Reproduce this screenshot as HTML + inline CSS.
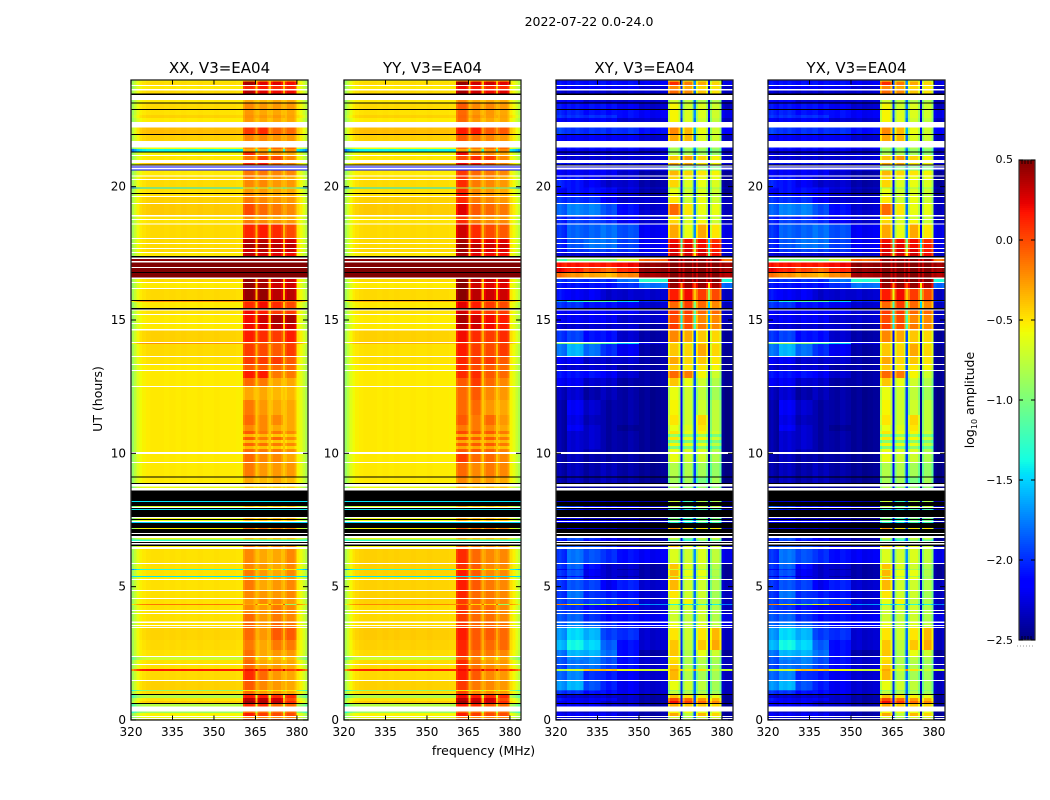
<!DOCTYPE html>
<html lang="en">
<head>
<meta charset="utf-8">
<title>2022-07-22 0.0-24.0</title>
<style>
html,body{margin:0;padding:0;background:#fff;overflow:hidden}
svg{display:block}
text{font-family:"DejaVu Sans","Liberation Sans",sans-serif;fill:#000}
</style>
</head>
<body>
<svg id="chart" xmlns="http://www.w3.org/2000/svg" width="1050" height="800" viewBox="0 0 1050 800">
<rect x="0" y="0" width="1050" height="800" fill="#fff"/>
<text x="589" y="26" font-size="12.5" text-anchor="middle">2022-07-22 0.0-24.0</text>
<text x="483.5" y="755" font-size="12.5" text-anchor="middle">frequency (MHz)</text>
<text x="102" y="399" font-size="12.5" text-anchor="middle" transform="rotate(-90 102 399)">UT (hours)</text>
<text x="974" y="400" font-size="12.5" text-anchor="middle" transform="rotate(-90 974 400)">log<tspan font-size="8" dy="3">10</tspan><tspan dy="-3"> amplitude</tspan></text>
</svg>
<script>
/* ---------- axis data ---------- */
const panelNames = ["XX, V3=EA04", "YY, V3=EA04", "XY, V3=EA04", "YX, V3=EA04"];
const xTicks = [320, 335, 350, 365, 380];
const yTicks = [0, 5, 10, 15, 20];
const colorTicks = [0.5, 0, -0.5, -1, -1.5, -2, -2.5];
const colorTickLabels = ["0.5", "0.0", "\u22120.5", "\u22121.0", "\u22121.5", "\u22122.0", "\u22122.5"];

/* frequency channels, MHz */
const channelEdges = [320,321,322,323,324,325.5,327,328.5,330,332,334,336,338,340,342,344,346,348,350,352,354,356,358,360.5,361.2,364.3,365,365.7,366.4,369.1,369.8,370.6,371.3,374.3,375,375.7,376.4,379.2,379.9,381,382,383,384];
const copolGroup = [0,0,0,0,0,0,0,0,0,0,0,0,0,0,0,0,0,0,0,0,0,0,0,1,1,1,0,2,2,2,0,3,3,3,0,4,4,4,0,0,0,0];
const crossGroup = [0,0,0,0,1,1,1,1,2,2,2,3,3,3,4,4,4,4,5,5,5,5,5,6,6,6,10,7,7,7,10,8,8,8,10,9,9,9,5,5,5,5];
const copolProfile = [-.38,-.25,-.12,-.05,-.02,0,.01,.01,.01,0,.01,0,.01,0,0,.01,0,0,.01,0,0,0,-.01,-.08,0,-.08,.12,-.08,0,-.08,.12,-.08,0,-.08,.12,-.08,0,-.08,-.03,-.1,-.2,-.3];
const crossProfile = [.02,.05,0,-.04,.03,0,.04,0,-.03,.03,0,.03,-.03,.02,0,-.02,.03,0,0,.03,-.02,0,.02,-.22,0,-.22,.3,-.22,0,-.22,.5,-.22,0,-.22,0,-.22,0,-.22,0,-.05,-.05,0];

/* time rows, hours, top to bottom */
const rowEdges = [24,23.944,23.813,23.775,23.663,23.606,23.494,23.438,23.25,23.156,23.119,22.913,22.875,22.688,22.575,22.425,22.219,21.975,21.938,21.713,21.469,21.413,21.319,21.281,21.188,21.15,21,20.888,20.831,20.794,20.756,20.719,20.644,20.606,20.419,20.381,20.288,20.25,19.969,19.931,19.763,19.725,19.65,19.613,19.388,19.35,18.938,18.881,18.788,18.75,18.619,18.581,18.075,18.038,17.888,17.85,17.7,17.663,17.55,17.513,17.4,17.344,17.288,17.213,17.156,16.988,16.95,16.8,16.763,16.594,16.538,16.425,16.388,16.2,16.163,15.75,15.713,15.675,15.45,15.394,15.356,15.225,15.188,14.888,14.85,14.663,14.606,14.175,14.138,14.1,13.65,13.613,13.35,13.313,13.125,13.088,12.825,12.525,12.488,12,11.438,11.063,10.838,10.725,10.613,10.5,10.388,10.275,10.163,10.05,9.975,9.675,9.638,9.131,9.094,8.888,8.85,8.756,8.7,8.606,8.213,8.175,8.025,7.988,7.95,7.913,7.875,7.613,7.575,7.538,7.5,7.463,7.425,7.388,7.2,7.163,7.013,6.975,6.9,6.825,6.769,6.713,6.675,6.638,6.581,6.525,6.488,6.413,5.888,5.85,5.663,5.625,5.4,5.363,5.288,5.25,4.875,4.838,4.575,4.538,4.35,4.313,4.125,4.088,4.013,3.975,3.694,3.638,3.563,3.525,3.488,3.45,3,2.625,2.4,2.363,2.25,2.1,2.063,1.913,1.838,1.5,1.463,1.125,1.088,.975,.938,.825,.713,.638,.6,.506,.319,.263,.15,.113,.075,.038,0];
const blankRows = [2,4,7,15,19,24,26,29,31,34,36,42,44,46,48,50,52,54,56,58,61,63,65,69,71,73,79,81,83,85,87,90,92,94,97,109,111,116,118,123,127,131,136,138,141,143,146,148,154,156,158,162,164,166,168,170,174,177,181,191,194,196];
const flaggedRows = [6,9,11,17,22,28,40,60,67,75,78,113,115,119,121,124,126,129,133,135,137,142,144,185,189];

/* log10 amplitude for data rows: [low, band1, band2, band3, band4], or one number for a uniform row */
const xxLevels = [
[-.55,-.35,-.35,-.35,-.35],[-.47,.4,.25,.25,.2],[-.52,.1,.15,.1,.1],[-.47,.35,.25,.2,.2],[-.52,-.3,-.35,-.3,-.3],
[-.47,-.2,-.25,-.25,-.25],[-.49,-.25,-.3,-.3,-.3],[-.44,-.22,-.25,-.25,-.28],[-.52,-.25,-.3,-.3,-.3],[-.38,.05,.1,-.1,-.1],
[-.44,-.2,-.2,-.25,-.25],[-.6,-.2,-.15,-.1,-.1],[-1.4,-.3,-.3,-.25,-.2],[-.55,.1,-.2,-.25,-.3],[-.52,-.15,.05,0,-.2],
[-.42,.1,.15,-.1,-.2],-2.2,-2.1,[-.52,-.15,-.15,-.2,-.2],[-.47,-.15,-.25,-.25,-.3],
[-.47,-.2,-.2,-.25,-.25],[-1.45,-.8,-.8,-1,-1.1],[-.49,-.25,-.25,-.3,-.3],[-.49,-.2,-.25,-.3,-.3],[-.44,-.15,-.2,-.25,-.25],
[-.42,0,-.1,-.15,-.2],[-.49,-.2,-.25,-.3,-.3],[-.49,-.15,-.2,-.25,-.25],[-.47,.12,.15,.1,0],[-.47,.35,.35,.3,.3],
[-.47,.4,.4,.35,.35],[-.47,.3,.35,.3,.3],[-.52,.35,.3,.25,.2],.45,.55,.55,.55,
[-.47,.45,.4,.35,.3],[-.52,.45,.4,.3,.3],[-.47,.45,.45,.35,.35],[-.2,0,.1,-.05,-.1],[-.52,.1,.2,.1,0],
[-.49,.2,.15,.05,.05],[-.52,.2,.3,.4,.4],[-.52,.2,.25,.35,.3],[-.44,.15,.1,.05,.15],[-.25,-.1,-.1,-.1,0],
[-.47,.05,0,-.05,.05],[-.49,.05,.05,.05,-.05],[-.52,-.05,-.05,-.1,-.1],[-.52,.15,.15,-.15,-.15],[-.52,-.1,-.15,-.3,-.3],
[-.52,-.3,-.3,-.35,-.35],[-.52,-.15,-.25,-.3,-.3],[-.52,-.1,-.2,-.2,-.3],[-.52,-.2,-.2,-.3,-.3],
[-.52,-.05,-.15,-.15,-.2],[-.52,-.35,-.35,-.4,-.4],[-.52,-.05,-.15,-.1,-.2],[-.52,-.35,-.35,-.4,-.4],[-.52,-.08,-.12,-.15,-.2],[-.52,-.35,-.38,-.4,-.42],[-.52,-.1,-.15,-.15,-.22],
[-.52,-.1,-.2,-.2,-.3],[-.52,-.15,-.25,-.25,-.25],[-.52,-.3,-.35,-.3,-.35],[-.6,-.45,-.45,-.45,-.45],
-1.45,[-.65,-.4,-.4,-.4,-.4],-1.45,[-.6,-.35,-.35,-.35,-.35],[-.6,-.35,-.35,-.35,-.35],-1.5,[-.55,-.15,-.15,-.2,-.2],
[-.6,-.4,-.4,-.4,-.4],-1.3,[-.55,-.15,-.2,-.2,-.2],
[-.49,-.2,-.3,-.3,-.2],[-.49,-.2,-.25,-.3,-.2],[-1.3,-.5,-.5,-.5,-.5],[-.49,-.15,-.25,-.3,-.2],-1.45,[-.52,-.2,-.25,-.3,-.25],
[-.49,-.15,-.3,-.25,-.2],[-.49,-.2,-.25,-.25,-.2],[-.49,-.25,-.2,-.2,-.25],[-.15,-.3,-.5,-.4,-.9],[-.49,-.2,-.25,-.15,-.2],
[-.49,-.2,-.25,-.15,-.2],[-.49,-.1,-.25,-.15,-.2],[-.49,-.1,-.25,-.1,-.15],[-.49,-.1,-.25,-.1,-.15],
[-.45,-.1,-.25,-.05,-.05],[-.47,-.15,-.3,-.15,-.15],[-.49,-.12,-.3,-.25,-.25],[-.7,-.15,-.35,-.35,-.35],[-.49,-.1,-.3,-.3,-.3],
[-.49,-.1,-.25,-.25,-.3],[.15,.2,.1,.1,.05],[-.47,.1,-.1,-.25,-.3],[-.44,-.05,-.2,-.25,-.3],[-.95,-.5,-.5,-.5,-.5],
[-.47,-.1,-.25,-.25,-.3],[-.8,.15,.15,.1,.1],[-.5,.35,.35,.3,0],[-.42,.42,.38,.35,.1],[-.8,.1,.1,-.1,-.1],
[-.9,-.1,-.1,-.1,-.1],[-.55,.15,.05,0,0],[-.6,-.2,-.2,-.2,-.2],[-.55,.1,.05,0,0]
];
const yyLevels = [
[-.55,-.3,-.35,-.35,-.35],[-.47,.45,.3,.3,.25],[-.52,.2,.15,.1,.1],[-.47,.4,.3,.2,.25],[-.52,-.2,-.3,-.3,-.3],
[-.47,-.05,-.2,-.2,-.25],[-.49,-.1,-.25,-.25,-.3],[-.44,-.08,-.2,-.25,-.28],[-.52,-.1,-.25,-.3,-.3],[-.38,.15,.15,-.05,-.05],
[-.44,-.05,-.15,-.2,-.25],[-.6,-.1,-.15,-.1,-.1],[-1.4,-.3,-.3,-.25,-.2],[-.55,.2,-.15,-.2,-.3],[-.52,0,.1,.05,-.2],
[-.42,.2,.15,-.05,-.2],-2.2,-2.1,[-.52,.05,-.1,-.15,-.2],[-.47,.05,-.2,-.2,-.3],
[-.47,.1,-.15,-.2,-.25],[-1.45,-.8,-.8,-1,-1.1],[-.49,.1,-.2,-.25,-.3],[-.49,.15,-.2,-.25,-.3],[-.44,.1,-.15,-.2,-.25],
[-.42,.25,-.05,-.1,-.15],[-.49,.05,-.2,-.25,-.25],[-.49,.1,-.15,-.2,-.2],[-.47,.3,.1,0,-.05],[-.47,.4,.25,.25,.25],
[-.47,.45,.35,.3,.3],[-.47,.42,.3,.25,.25],[-.52,.4,.25,.2,.2],.45,.55,.55,.55,
[-.47,.48,.35,.3,.3],[-.52,.48,.3,.25,.25],[-.47,.48,.35,.3,.3],[-.3,.1,.05,-.05,-.1],[-.52,.25,.15,.05,0],
[-.49,.3,.15,.05,.05],[-.52,.4,.3,.2,.15],[-.52,.35,.3,.2,.15],[-.44,.2,.1,.05,.1],[-.35,.05,-.05,-.05,0],
[-.49,.15,.05,0,.05],[-.49,.12,.05,.05,-.05],[-.52,.1,0,-.05,-.1],[-.52,.1,.1,-.05,-.1],[-.52,-.05,.05,-.1,-.2],
[-.52,-.1,-.05,-.2,-.25],[-.52,-.1,-.1,-.25,-.3],[-.52,-.05,-.15,-.1,-.25],[-.52,-.15,-.15,-.2,-.3],
[-.52,0,-.05,-.05,-.15],[-.52,-.3,-.3,-.3,-.35],[-.52,0,-.05,-.05,-.15],[-.52,-.3,-.3,-.3,-.35],[-.52,-.05,-.05,-.05,-.15],[-.52,-.3,-.3,-.3,-.38],[-.52,-.05,-.05,-.08,-.18],
[-.52,.05,-.1,-.1,-.2],[-.52,-.1,-.2,-.15,-.2],[-.52,-.2,-.25,-.25,-.3],[-.6,-.35,-.4,-.4,-.4],
-1.45,[-.65,-.35,-.4,-.4,-.4],-1.45,[-.6,-.3,-.35,-.35,-.35],[-.6,-.3,-.35,-.35,-.35],-1.5,[-.55,-.1,-.15,-.15,-.2],
[-.6,-.35,-.4,-.4,-.4],-1.3,[-.55,-.1,-.15,-.2,-.2],
[-.44,.1,-.1,-.2,-.2],[-.44,.08,-.05,-.2,-.2],[-1.3,-.5,-.5,-.5,-.5],[-.44,.15,-.05,-.2,-.2],-1.45,[-.49,.05,-.1,-.2,-.2],
[-.44,.15,-.05,-.15,-.2],[-.44,.12,-.1,-.15,-.2],[-.44,.05,-.1,-.15,-.2],[-.2,-.2,-.45,-.45,-.9],[-.47,.08,-.1,-.1,-.2],
[-.47,.08,-.1,-.12,-.2],[-.47,.05,-.1,-.12,-.2],[-.47,.05,-.1,-.1,-.15],[-.47,.05,-.1,-.1,-.15],
[-.42,.15,-.05,-.05,-.1],[-.44,.12,-.05,-.1,-.1],[-.47,.1,-.1,-.15,-.2],[-.7,-.05,-.2,-.3,-.3],[-.47,.1,-.15,-.25,-.25],
[-.47,.1,-.12,-.2,-.25],[.12,.2,.1,.1,.05],[-.47,.15,-.05,-.2,-.25],[-.44,.05,-.15,-.2,-.25],[-.95,-.5,-.5,-.5,-.5],
[-.47,.02,-.2,-.2,-.25],[-.8,.2,.15,.1,.1],[-.5,.35,.3,.3,0],[-.42,.42,.35,.3,.1],[-.8,.15,.1,-.05,-.1],
[-.9,-.05,-.1,-.1,-.1],[-.55,.15,.05,0,0],[-.6,-.15,-.2,-.2,-.2],[-.55,.1,.05,0,0]
];
/* cross-pol rows: [six low-frequency blocks, band1..band4, optional gap level] */
const xyLevels = [
[-2.2,-2.2,-2.2,-2.2,-2.2,-2.2,-.5,-.6,-.6,-.7],[-2.1,-2.1,-2.1,-2.1,-2.1,-2.2,.1,-.15,-.3,-.45],[-2.2,-2.2,-2.2,-2.2,-2.2,-2.3,-.2,-.3,-.45,-.5],[-2.3,-2.3,-2.3,-2.3,-2.3,-2.3,-.1,-.2,-.4,-.5],[-2.2,-2.2,-2.3,-2.3,-2.3,-2.3,-.7,-.75,-.8,-.8],
[-2.1,-2.1,-2.1,-2.1,-2.2,-2.3,-.55,-.7,-.65,-.7],[-2.05,-2.05,-2.1,-2.1,-2.1,-2.2,-.55,-.65,-.65,-.7],[-2,-2,-2,-2,-2.1,-2.2,-.55,-.65,-.65,-.7],[-2.2,-2.2,-2.2,-2.2,-2.3,-2.3,-.55,-.65,-.7,-.75],[-1.95,-2,-2,-2,-2,-2.1,-.2,-.35,-.6,-.7],
[-2.2,-2.2,-2.2,-2.2,-2.2,-2.3,-.3,-.35,-.65,-.7],[-2.1,-2.1,-2.1,-2.1,-2.1,-2.2,-.8,-.8,-.8,-.85],[-2.2,-2.2,-2.2,-2.2,-2.2,-2.3,-.9,-.9,-.9,-.95],[-2.3,-2.3,-2.3,-2.3,-2.3,-2.3,-.8,-.8,-.85,-.9],[-2.3,-2.3,-2.3,-2.3,-2.3,-2.3,-.4,-.25,-.45,-.55],
[-2.1,-2.1,-2.1,-2.1,-2.1,-2.2,-.3,-.3,-.5,-.55],[-2.3,-2.3,-2.3,-2.3,-2.3,-2.3,-1,-1,-1,-1],[-2.2,-2.2,-2.2,-2.2,-2.2,-2.2,-1,-1,-1,-1],[-2.2,-2.2,-2.2,-2.2,-2.3,-2.4,-.35,-.45,-.5,-.55],[-2.1,-2.1,-2.2,-2.3,-2.3,-2.4,-.45,-.6,-.6,-.6],
[-2.05,-2.1,-2.2,-2.3,-2.3,-2.4,-.45,-.65,-.6,-.65],[-2.1,-2.1,-2.1,-2.1,-2.2,-2.3,-.9,-.9,-.9,-.9],[-2.2,-2.1,-2.1,-2.2,-2.3,-2.4,-.6,-.7,-.65,-.7],[-2.1,-2.1,-2.1,-2.2,-2.3,-2.4,-.6,-.7,-.65,-.75],[-2,-2,-2,-2.2,-2.3,-2.3,-.5,-.7,-.6,-.7],
[-1.85,-1.75,-1.75,-1.9,-2.1,-2.3,-.1,-.5,-.6,-.6],[-2.05,-2,-2,-2.1,-2.2,-2.3,-.5,-.7,-.7,-.7],[-2.05,-1.95,-1.95,-2,-2.2,-2.3,-.45,-.65,-.55,-.7],[-2,-1.85,-1.85,-1.8,-1.9,-2.2,-.3,-.6,-.3,-.5],[-2.05,-1.9,-1.8,-1.8,-1.95,-2.2,.2,.2,.2,.1,-1.5],
[-2.05,-1.9,-1.8,-1.8,-1.95,-2.2,.25,.25,.2,.15,-1.4],[-2.1,-2,-1.95,-1.95,-2,-2.2,.25,.25,.25,.15,-1.2],[-2.3,-2.3,-2.3,-2.3,-2.3,-2.3,.3,.3,.3,.2,-1],[-1.2,-1,-1,-1,-.7,-.1,.45,.45,.45,.45,.4],[.15,.15,.15,.15,.2,.45,.55,.55,.55,.55,.55],[.2,.1,0,-.1,.1,.45,.55,.55,.55,.55,.55],[-.15,-.25,-.3,-.35,-.2,.4,.55,.55,.55,.55,.55],
[-2,-2,-2,-2,-1.8,-1.3,.5,.5,.5,.5,.45],[-2.1,-2.1,-2.1,-2.1,-2,-1.8,.45,.45,.45,.4,-.5],[-2.1,-2.2,-2.2,-2.3,-2.3,-2.3,.15,.2,.05,0,-.9],[-1.7,-1.4,-1.2,-1.2,-1.5,-2,.1,.1,-.05,-.1,-1.2],[-2,-2,-2.1,-2.1,-2.2,-2.3,-.1,.05,-.1,-.2,-1.5],
[-2.2,-2.2,-2.2,-2.2,-2.2,-2.3,.05,.05,-.1,-.1,-1.6],[-2.2,-2.2,-2.2,-2.2,-2.3,-2.3,0,0,-.2,-.2,-1.7],[-2.3,-2.3,-2.3,-2.3,-2.3,-2.4,.05,0,-.15,-.2,-1.7],[-2,-1.95,-2.1,-2.1,-2.3,-2.4,-.2,-.3,-.4,-.45],[-1,-.9,-1,-1.2,-1.5,-2.2,-.5,-.6,-.5,-.6],
[-1.8,-1.6,-1.8,-2,-2.2,-2.4,-.4,-.45,-.3,-.45],[-2.2,-2.2,-2.3,-2.3,-2.3,-2.4,-.3,-.45,-.4,-.5],[-2.3,-2.3,-2.3,-2.3,-2.4,-2.4,-.4,-.5,-.5,-.55],[-2.1,-2.1,-2.1,-2.2,-2.3,-2.4,-.1,-.15,-.55,-.7],[-2.2,-2.2,-2.3,-2.3,-2.4,-2.4,-.4,-.6,-.7,-.8],
[-2.35,-2.3,-2.4,-2.35,-2.4,-2.45,-.6,-.7,-.75,-.85],[-2.4,-2.2,-2.3,-2.4,-2.4,-2.45,-.55,-.7,-.7,-.75],[-2.4,-2.25,-2.35,-2.4,-2.4,-2.45,-.5,-.7,-.45,-.75],[-2.4,-2.2,-2.3,-2.4,-2.45,-2.45,-.6,-.65,-.5,-.75],
[-2.4,-2.3,-2.3,-2.4,-2.4,-2.45,-.5,-.6,-.55,-.7],[-2.4,-2.3,-2.3,-2.4,-2.4,-2.45,-.9,-.95,-.9,-1],[-2.4,-2.3,-2.3,-2.4,-2.4,-2.45,-.5,-.6,-.55,-.7],[-2.4,-2.3,-2.3,-2.4,-2.4,-2.45,-.95,-1,-.95,-1],[-2.4,-2.3,-2.3,-2.4,-2.4,-2.45,-.55,-.6,-.6,-.75],[-2.4,-2.3,-2.3,-2.4,-2.4,-2.45,-1,-1,-.95,-1.05],[-2.4,-2.3,-2.35,-2.4,-2.4,-2.45,-.6,-.65,-.65,-.8],
[-2.4,-2.35,-2.4,-2.4,-2.4,-2.45,-.6,-.7,-.7,-.8],[-2.4,-2.35,-2.4,-2.35,-2.4,-2.45,-.8,-.8,-.85,-.9],[-2.4,-2.35,-2.4,-2.35,-2.4,-2.45,-.85,-.85,-1,-.85],[-2.45,-2.45,-2.45,-2.45,-2.45,-2.45,-.8,-.9,-.9,-.9],
[-2.3,-2.3,-2.3,-2.3,-2.3,-2.4,-.7,-1.2,-.8,-.8],[-1.9,-2,-2.1,-2.1,-2.2,-2.3,-.75,-1,-.75,-.75],[-2,-2.1,-2.2,-2.2,-2.2,-2.3,-1.3,-1.4,-1.2,-1.2],[-2.2,-2.2,-2.3,-2.3,-2.3,-2.4,-1,-1.2,-1,-1],[-2.2,-2.2,-2.3,-2.3,-2.3,-2.4,-1,-1.2,-1,-1],[-2.2,-2.2,-2.2,-2.2,-2.3,-2.4,-1.3,-1.4,-1.2,-1.2],[-2.3,-2.2,-2.3,-2.3,-2.4,-2.4,-.25,-.5,-.5,-.5],
[-2,-1.9,-2,-2.2,-2.3,-2.4,-.7,-1,-.7,-.7],[-2.1,-1.95,-2.1,-2.2,-2.3,-2.4,-1.1,-1.3,-1,-1.1],[-1.9,-1.9,-1.9,-2,-2.2,-2.3,-.4,-.6,-.6,-.7],
[-2,-1.8,-1.9,-2,-2.1,-2.2,-.65,-.7,-.65,-.75],[-2,-1.85,-2.1,-2.3,-2.3,-2.4,-.4,-.65,-.7,-.8],[-2.2,-2,-2.2,-2.3,-2.4,-2.4,-.7,-.85,-.85,-.9],[-2,-1.9,-2.2,-2.3,-2.3,-2.4,-.35,-.6,-.6,-.8],[-2.3,-2.1,-2.3,-2.3,-2.4,-2.4,-.7,-.85,-.85,-.9],[-2,-1.9,-2.2,-2.3,-2.3,-2.4,-.35,-.6,-.6,-.8],
[-2,-1.9,-1.95,-2.2,-2.05,-2.3,-.35,-.7,-.7,-.8],[-2,-1.8,-2,-2.05,-2.1,-2.3,-.5,-.7,-.7,-.85],[-1.95,-1.9,-1.95,-1.95,-2,-2.3,-.6,-.55,-.75,-.8],[-.2,-.5,-.9,-.6,-.2,-1.7,-1.3,-1.4,-1.3,-1.4],[-1.95,-2,-2.1,-2.2,-2.2,-2.3,-.7,-.7,-.7,-.8],
[-1.95,-1.95,-2,-2.1,-2.2,-2.3,-.7,-.75,-.7,-.8],[-1.9,-1.85,-2,-2.1,-2.1,-2.2,-.7,-.75,-.7,-.8],[-1.85,-1.75,-1.85,-2,-2.1,-2.2,-.6,-.75,-.65,-.75],[-1.85,-1.75,-1.85,-2,-2.1,-2.2,-.6,-.75,-.65,-.75],
[-1.7,-1.5,-1.6,-1.95,-2,-2.3,-.5,-.7,-.5,-.35],[-1.6,-1.4,-1.5,-1.85,-2.1,-2.3,-.4,-.75,-.4,-.3],[-1.8,-1.6,-1.6,-1.8,-2.1,-2.4,-.4,-.8,-.6,-.7],[-1.9,-1.75,-1.75,-1.9,-2.1,-2.3,-.5,-.8,-.75,-.8],[-1.9,-1.8,-1.75,-1.9,-2.1,-2.3,-.45,-.8,-.8,-.85],
[-1.95,-1.8,-1.8,-1.95,-2.1,-2.3,-.4,-.8,-.8,-.85],[-.8,-.7,-.4,-.4,-.6,-.7,-.3,-.6,-.5,-.7],[-1.85,-1.75,-2,-2.05,-2.2,-2.3,-.35,-.8,-.85,-.85],[-1.7,-1.6,-1.9,-2.05,-2.2,-2.3,-.6,-.7,-.75,-.85],[-1.9,-1.9,-2,-2.1,-2.2,-2.3,-.9,-.9,-.9,-.95],
[-2,-2,-2.1,-2.1,-2.2,-2.3,-.75,-.8,-.8,-.85],[-2.3,-2.3,-2.3,-2.3,-2.3,-2.4,-.4,-.5,-.55,-.6],[-2.1,-2.2,-2.2,-2.2,-2.3,-2.4,0,-.1,-.25,-.35],[-2.2,-2.2,-2.2,-2.3,-2.3,-2.4,.2,.05,-.1,-.2],[-2.2,-2.2,-2.2,-2.3,-2.3,-2.4,-.3,-.4,-.4,-.45],
[-2.3,-2.3,-2.3,-2.3,-2.3,-2.4,-.55,-.6,-.6,-.6],[-2.2,-2.2,-2.2,-2.2,-2.3,-2.4,-.3,-.75,-.35,-.45],[-2.3,-2.3,-2.3,-2.3,-2.3,-2.4,-.7,-.8,-.7,-.7],[-2.2,-2.2,-2.2,-2.2,-2.3,-2.4,-.35,-.7,-.4,-.5]
];
const yxLevels = xyLevels.map(function (row) { return row.slice(); });

const panelLefts = [131, 344, 556, 768];
const panelLevels = [xxLevels, yyLevels, xyLevels, yxLevels];
const panelIsCross = [false, false, true, true];

/* ---------- scales ---------- */
const SVGNS = "http://www.w3.org/2000/svg";
const svg = document.getElementById("chart");
const plotTop = 80, plotBottom = 720, plotWidth = 177;
const fMin = 320, fMax = 384, tMin = 0, tMax = 24, vMin = -2.5, vMax = 0.5, vFlag = -5;
function xScale(left, f) { return left + (f - fMin) / (fMax - fMin) * plotWidth; }
function yScale(h) { return plotBottom - (h - tMin) / (tMax - tMin) * (plotBottom - plotTop); }
function ramp(t, pts) {
  for (let i = 1; i < pts.length; i++) {
    if (t <= pts[i][0]) {
      const a = pts[i - 1], b = pts[i];
      return a[1] + (b[1] - a[1]) * (t - a[0]) / (b[0] - a[0]);
    }
  }
  return pts[pts.length - 1][1];
}
function jet(v) {
  if (v < vFlag) return "#000";
  const t = Math.max(0, Math.min(1, (v - vMin) / (vMax - vMin)));
  const r = ramp(t, [[0,0],[.35,0],[.66,1],[.89,1],[1,.5]]);
  const g = ramp(t, [[0,0],[.125,0],[.375,1],[.64,1],[.91,0],[1,0]]);
  const b = ramp(t, [[0,.5],[.11,1],[.34,1],[.65,0],[1,0]]);
  return "rgb(" + Math.round(r * 255) + "," + Math.round(g * 255) + "," + Math.round(b * 255) + ")";
}
function make(tag, attrs, parent) {
  const el = document.createElementNS(SVGNS, tag);
  for (const k in attrs) el.setAttribute(k, attrs[k]);
  parent.appendChild(el);
  return el;
}

/* ---------- panels ---------- */
panelNames.forEach(function (name, p) {
  const left = panelLefts[p];
  const group = make("g", {}, svg);
  
  
  const cells = make("g", { "shape-rendering": "crispEdges" }, group);
  
  
  const levels = panelLevels[p];
  const groups = panelIsCross[p] ? crossGroup : copolGroup;
  const profile = panelIsCross[p] ? crossProfile : copolProfile;
  let d = 0;
  for (let r = 0; r < rowEdges.length - 1; r++) {
    if (blankRows.indexOf(r) >= 0) continue;
    const y0 = yScale(rowEdges[r]), y1 = yScale(rowEdges[r + 1]);
    const flagged = flaggedRows.indexOf(r) >= 0;
    const row = flagged ? -9 : levels[d++];
    if (typeof row === "number") {
      const band = make("rect", { x: left, y: y0, width: plotWidth, height: y1 - y0, fill: jet(row) }, cells);
      
      
      continue;
    }
    for (let c = 0; c < groups.length; c++) {
      const x0 = xScale(left, channelEdges[c]), x1 = xScale(left, channelEdges[c + 1]);
      let base = row[groups[c]];
      if (base === undefined) base = row[5];
      const cell = make("rect", { x: x0, y: y0, width: x1 - x0, height: y1 - y0, fill: jet(base + profile[c]) }, cells);
      
      
    }
  }
  const frame = make("rect", { x: left, y: plotTop, width: plotWidth, height: plotBottom - plotTop, fill: "none", stroke: "#222", "stroke-width": 1.3 }, group);
  
  
  const title = make("text", { x: left + plotWidth / 2, y: 73, "font-size": 15, "text-anchor": "middle" }, group);
  title.textContent = name;
  
  
  xTicks.forEach(function (f) {
    const x = xScale(left, f);
    const lower = make("line", { x1: x, x2: x, y1: plotBottom, y2: plotBottom - 4.5, stroke: "#000", "stroke-width": 1 }, group);
    
    
    const upper = make("line", { x1: x, x2: x, y1: plotTop, y2: plotTop + 4.5, stroke: "#000", "stroke-width": 1 }, group);
    
    
    const label = make("text", { x: x, y: 736, "font-size": 12, "text-anchor": "middle" }, group);
    label.textContent = String(f);
    
    
  });
  yTicks.forEach(function (h) {
    const y = yScale(h);
    const tl = make("line", { x1: left, x2: left + 5, y1: y, y2: y, stroke: "#000", "stroke-width": 1 }, group);
    
    
    const tr = make("line", { x1: left + plotWidth, x2: left + plotWidth - 5, y1: y, y2: y, stroke: "#000", "stroke-width": 1 }, group);
    
    
    const label = make("text", { x: left - 5, y: y + 4, "font-size": 12, "text-anchor": "end" }, group);
    label.textContent = String(h);
    
    
  });
});

/* ---------- colorbar ---------- */
const cbLeft = 1019, cbWidth = 16, cbTop = 160, cbBottom = 640;
function cbScale(v) { return cbBottom - (v - vMin) / (vMax - vMin) * (cbBottom - cbTop); }
const cb = make("g", {}, svg);


const cbRamp = make("g", { "shape-rendering": "crispEdges" }, cb);


for (let i = 0; i < 240; i++) {
  const v0 = vMin + (vMax - vMin) * i / 240, v1 = vMin + (vMax - vMin) * (i + 1) / 240;
  const seg = make("rect", { x: cbLeft, y: cbScale(v1), width: cbWidth, height: cbScale(v0) - cbScale(v1), fill: jet((v0 + v1) / 2) }, cbRamp);
  
  
}
const cbFrame = make("rect", { x: cbLeft, y: cbTop, width: cbWidth, height: cbBottom - cbTop, fill: "none", stroke: "#333", "stroke-width": 1.2 }, cb);


colorTicks.forEach(function (v, i) {
  const y = cbScale(v);
  const a = make("line", { x1: cbLeft, x2: cbLeft + 4, y1: y, y2: y, stroke: "#000", "stroke-width": 1 }, cb);
  
  
  const b = make("line", { x1: cbLeft + cbWidth, x2: cbLeft + cbWidth - 4, y1: y, y2: y, stroke: "#000", "stroke-width": 1 }, cb);
  
  
  const label = make("text", { x: 1013, y: y + (i === 0 ? 3 : 4), "font-size": 11, "text-anchor": "end" }, cb);
  label.textContent = colorTickLabels[i];
  
  
});
[3, 6, 9, 12].forEach(function (dx) {
  const t = make("line", { x1: cbLeft + dx, x2: cbLeft + dx, y1: cbTop, y2: cbTop + 4, stroke: "#000", "stroke-width": .8 }, cb);
  
  
  const u = make("line", { x1: cbLeft + dx, x2: cbLeft + dx, y1: cbBottom, y2: cbBottom - 4, stroke: "#000", "stroke-width": .8 }, cb);
  
  
});
const cbDots = make("line", { x1: 1017, x2: 1035, y1: 646, y2: 646, stroke: "#999", "stroke-width": 1, "stroke-dasharray": "1 2" }, cb);


</script>
</body>
</html>
